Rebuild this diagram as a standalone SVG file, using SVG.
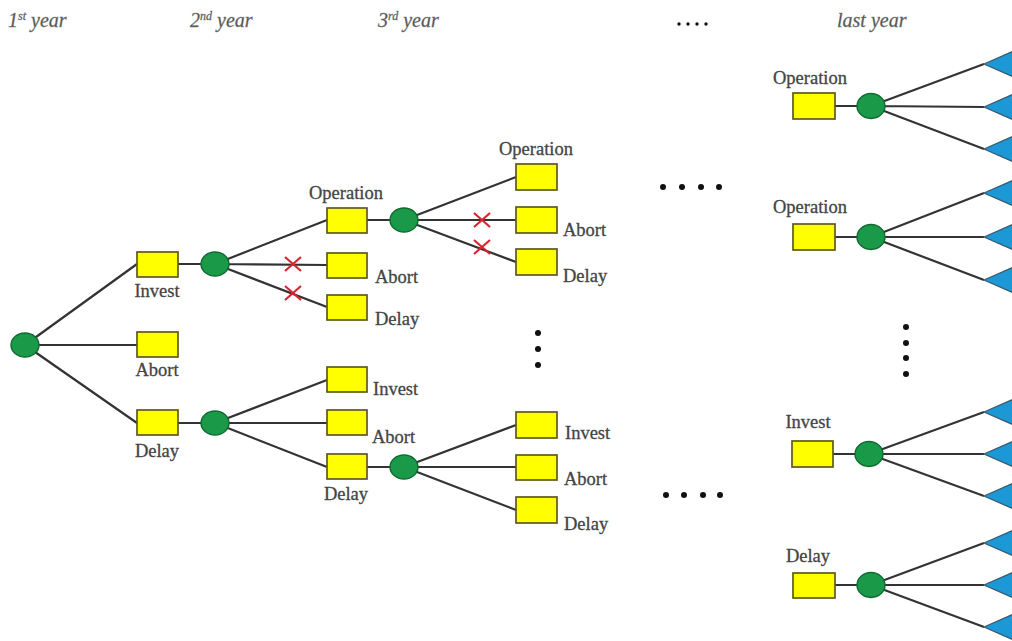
<svg xmlns="http://www.w3.org/2000/svg" width="1012" height="641" viewBox="0 0 1012 641">
<defs>
<style>
.hdr{font-family:"Liberation Serif",serif;font-style:italic;font-size:20px;fill:#555;stroke:#777;stroke-width:0.3}
.lbl{font-family:"Liberation Serif",serif;font-size:18.5px;fill:#444;stroke:#444;stroke-width:0.3}
.box{fill:#ffff00;stroke:#5e5a1e;stroke-width:1.7}
.chance{fill:#1a9a48;stroke:#0f6b30;stroke-width:1.4}
.edge{stroke:#333;stroke-width:2.2;fill:none}
.x{stroke:#d8262e;stroke-width:2.2;fill:none}
.tri{fill:#1d98d6;stroke:#3a5a6e;stroke-width:1.2}
.dot{fill:#111}
</style>
</defs>
<rect width="1012" height="641" fill="#fff"/>
<g id="headers">
<text class="hdr" x="8" y="27">1<tspan font-size="12" dy="-7">st</tspan><tspan dy="7"> year</tspan></text>
<text class="hdr" x="190" y="27">2<tspan font-size="12" dy="-7">nd</tspan><tspan dy="7"> year</tspan></text>
<text class="hdr" x="378" y="27">3<tspan font-size="12" dy="-7">rd</tspan><tspan dy="7"> year</tspan></text>
<text class="hdr" x="837" y="27">last year</text>
<circle class="dot" cx="679" cy="24" r="1.7"/><circle class="dot" cx="688" cy="24" r="1.7"/><circle class="dot" cx="697" cy="24" r="1.7"/><circle class="dot" cx="706" cy="24" r="1.7"/>
</g>
<g id="connectors">
<path class="edge" d="M25 345 L137 264 M25 345 L137 345 M25 345 L137 423"/>
<path class="edge" d="M178 264 L215 264 M178 423 L215 423"/>
<path class="edge" d="M215 264 L327 220 M215 264 L327 265 M215 264 L327 307"/>
<path class="edge" d="M215 423 L327 380 M215 423 L327 423 M215 423 L327 467"/>
<path class="edge" d="M367 220 L404 220 M367 467 L404 467"/>
<path class="edge" d="M404 220 L516 177 M404 220 L516 220 M404 220 L516 262"/>
<path class="edge" d="M404 467 L516 425 M404 467 L516 467 M404 467 L516 510"/>
<path class="edge" d="M835 106 L871 106 M871 106 L984 64 M871 106 L984 107 M871 106 L984 149"/>
<path class="edge" d="M835 237 L871 237 M871 237 L984 193 M871 237 L984 237 M871 237 L984 280"/>
<path class="edge" d="M833 454 L869 454 M869 454 L984 412 M869 454 L984 454 M869 454 L984 496"/>
<path class="edge" d="M835 585 L871 585 M871 585 L984 543 M871 585 L984 585 M871 585 L984 627"/>
<path class="x" d="M285 257 L301 271 M301 257 L285 271"/>
<path class="x" d="M285 286 L301 300 M301 286 L285 300"/>
<path class="x" d="M474 213 L490 227 M490 213 L474 227"/>
<path class="x" d="M474 240 L490 254 M490 240 L474 254"/>
</g>
<g id="root"><ellipse class="chance" cx="25" cy="345" rx="14" ry="12"/></g>
<g id="y1-invest"><rect class="box" x="137" y="252" width="41" height="25"/><text class="lbl" x="157" y="297" text-anchor="middle">Invest</text></g>
<g id="y1-abort"><rect class="box" x="137" y="332" width="41" height="25"/><text class="lbl" x="157" y="376" text-anchor="middle">Abort</text></g>
<g id="y1-delay"><rect class="box" x="137" y="410" width="41" height="25"/><text class="lbl" x="157" y="457" text-anchor="middle">Delay</text></g>
<g id="c-invest"><ellipse class="chance" cx="215" cy="264" rx="14" ry="12"/></g>
<g id="c-delay"><ellipse class="chance" cx="215" cy="423" rx="14" ry="12"/></g>
<g id="y2-operation"><rect class="box" x="327" y="208" width="40" height="25"/><text class="lbl" x="346" y="199" text-anchor="middle">Operation</text></g>
<g id="y2-abort"><rect class="box" x="327" y="253" width="40" height="25"/><text class="lbl" x="375" y="283">Abort</text></g>
<g id="y2-delay"><rect class="box" x="327" y="295" width="40" height="25"/><text class="lbl" x="375" y="325">Delay</text></g>
<g id="y2-invest"><rect class="box" x="327" y="367" width="40" height="25"/><text class="lbl" x="373" y="395">Invest</text></g>
<g id="y2-abort2"><rect class="box" x="327" y="410" width="40" height="25"/><text class="lbl" x="372" y="443">Abort</text></g>
<g id="y2-delay2"><rect class="box" x="327" y="454" width="40" height="25"/><text class="lbl" x="346" y="500" text-anchor="middle">Delay</text></g>
<g id="c-operation"><ellipse class="chance" cx="404" cy="220" rx="14" ry="12"/></g>
<g id="c-delay2"><ellipse class="chance" cx="404" cy="467" rx="14" ry="12"/></g>
<g id="y3-operation"><rect class="box" x="516" y="164" width="41" height="26"/><text class="lbl" x="536" y="155" text-anchor="middle">Operation</text></g>
<g id="y3-abort"><rect class="box" x="516" y="207" width="41" height="26"/><text class="lbl" x="563" y="236">Abort</text></g>
<g id="y3-delay"><rect class="box" x="516" y="249" width="41" height="26"/><text class="lbl" x="563" y="282">Delay</text></g>
<g id="y3-invest"><rect class="box" x="516" y="412" width="41" height="26"/><text class="lbl" x="565" y="439">Invest</text></g>
<g id="y3-abort2"><rect class="box" x="516" y="455" width="41" height="25"/><text class="lbl" x="564" y="485">Abort</text></g>
<g id="y3-delay2"><rect class="box" x="516" y="497" width="41" height="26"/><text class="lbl" x="564" y="530">Delay</text></g>
<g id="ellipses">
<circle class="dot" cx="663" cy="187" r="3"/><circle class="dot" cx="682" cy="187" r="3"/><circle class="dot" cx="701" cy="187" r="3"/><circle class="dot" cx="719" cy="187" r="3"/>
<circle class="dot" cx="538" cy="333" r="3"/><circle class="dot" cx="538" cy="349" r="3"/><circle class="dot" cx="538" cy="365" r="3"/>
<circle class="dot" cx="666" cy="495" r="3"/><circle class="dot" cx="684" cy="495" r="3"/><circle class="dot" cx="703" cy="495" r="3"/><circle class="dot" cx="720" cy="495" r="3"/>
<circle class="dot" cx="906" cy="327" r="3"/><circle class="dot" cx="906" cy="343" r="3"/><circle class="dot" cx="906" cy="358" r="3"/><circle class="dot" cx="906" cy="374" r="3"/>
</g>
<g id="last-operation1"><rect class="box" x="793" y="93" width="42" height="26"/><text class="lbl" x="810" y="84" text-anchor="middle">Operation</text><ellipse class="chance" cx="871" cy="106" rx="14" ry="12.5"/>
<polygon class="tri" points="984,64 1016,50 1016,78"/><polygon class="tri" points="984,107 1016,93 1016,121"/><polygon class="tri" points="984,149 1016,135 1016,163"/></g>
<g id="last-operation2"><rect class="box" x="793" y="224" width="42" height="26"/><text class="lbl" x="810" y="213" text-anchor="middle">Operation</text><ellipse class="chance" cx="871" cy="237" rx="14" ry="12.5"/>
<polygon class="tri" points="984,193 1016,179 1016,207"/><polygon class="tri" points="984,237 1016,223 1016,251"/><polygon class="tri" points="984,280 1016,266 1016,294"/></g>
<g id="last-invest"><rect class="box" x="792" y="441" width="41" height="26"/><text class="lbl" x="808" y="428" text-anchor="middle">Invest</text><ellipse class="chance" cx="869" cy="454" rx="14" ry="12.5"/>
<polygon class="tri" points="984,412 1016,398 1016,426"/><polygon class="tri" points="984,454 1016,440 1016,468"/><polygon class="tri" points="984,496 1016,482 1016,510"/></g>
<g id="last-delay"><rect class="box" x="793" y="573" width="42" height="25"/><text class="lbl" x="808" y="562" text-anchor="middle">Delay</text><ellipse class="chance" cx="871" cy="585" rx="14" ry="12.5"/>
<polygon class="tri" points="984,543 1016,529 1016,557"/><polygon class="tri" points="984,585 1016,571 1016,599"/><polygon class="tri" points="984,627 1016,613 1016,641"/></g>
</svg>
